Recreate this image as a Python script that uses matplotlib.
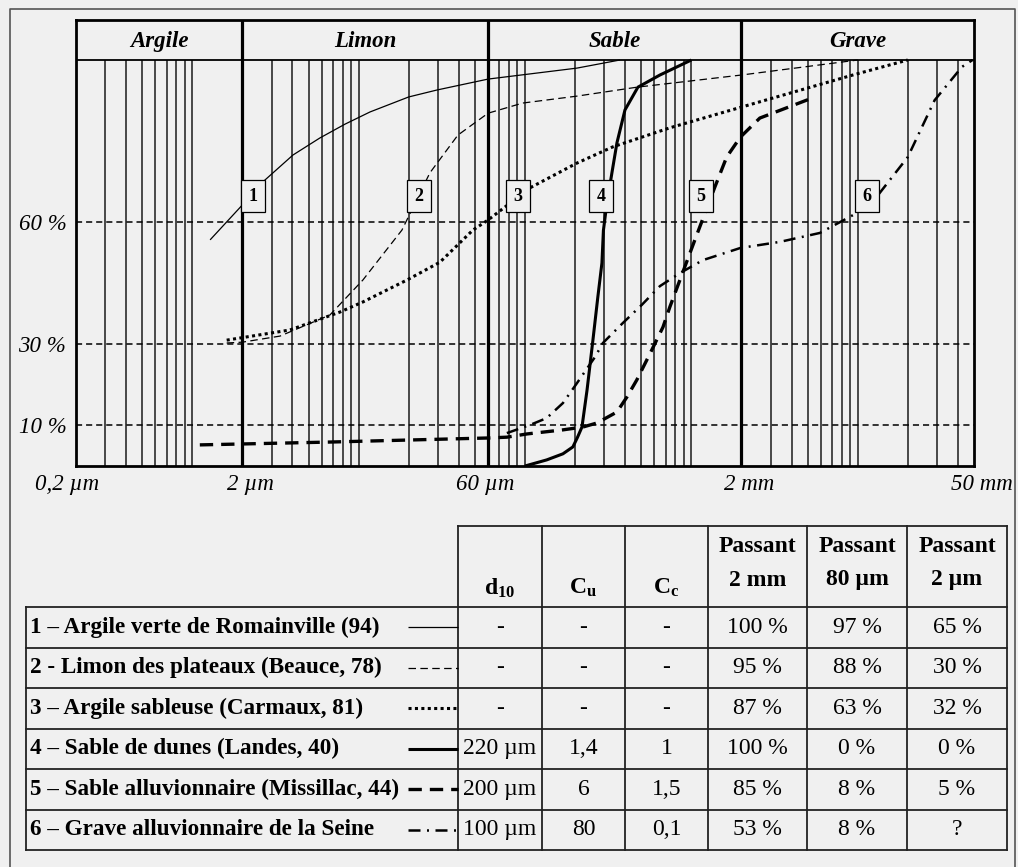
import matplotlib

matplotlib.use("Agg")
import matplotlib.pyplot as plt
import matplotlib.transforms as mtransforms
import numpy as np

plt.rcParams["font.family"] = ["Liberation Serif", "DejaVu Serif"]
plt.rcParams["mathtext.fontset"] = "custom"
plt.rcParams["mathtext.rm"] = "Liberation Serif:bold"
plt.rcParams["mathtext.it"] = "Liberation Serif:bold"
plt.rcParams["mathtext.bf"] = "Liberation Serif:bold"

BG = "#f0f0f0"

# ---- grain-size curves: diameter (µm) vs passing (%) ----
c1_d = [1.28, 2.0, 2.66, 4.03, 5.85, 8.28, 11.7, 20, 29.5, 60, 205, 372]
c1_p = [55.7, 64.3, 70, 76.6, 80.8, 84.2, 87.2, 90.9, 92.6, 95.3, 98, 100]

c2_d = [1.61, 2.0, 3.37, 6.72, 10.6, 18.2, 26.8, 39.5, 60, 97, 205, 470, 2000, 10000]
c2_p = [30.3, 30.5, 32, 37.2, 45.8, 58.1, 72.2, 81.5, 86.9, 89.4, 91.1, 93.3, 96.3, 100]

c3_d = [1.61, 3.86, 7.7, 10.6, 19.5, 30.8, 48.6, 60, 107, 205, 337, 743, 2000, 9340, 20000]
c3_p = [31, 33.5, 37.9, 40.4, 45.8, 50.2, 58.1, 60.6, 68.5, 74.6, 78.6, 83.3, 88.4, 96.3, 100]

c4_d = [100, 135, 169, 194, 207, 220, 236, 256, 274, 290, 296, 309, 333, 357, 399, 477, 647, 1000]
c4_p = [0, 1.5, 3, 4.7, 7.1, 9.6, 18.7, 31, 41.6, 50, 58, 64, 72.2, 79.6, 87.7, 93.3, 96.3, 100]

c5_d = [1.11, 6.72, 60, 77.8, 103, 169, 223, 271, 357, 410, 470, 566, 675, 743,
        1050, 1208, 1384, 1630, 1970, 2580, 5300]
c5_p = [5.2, 5.9, 6.9, 7.1, 7.9, 8.9, 9.6, 10.6, 13.3, 17, 21.2, 27.8, 34.2, 39.2,
        55.7, 62.3, 68.7, 76.1, 81, 85.7, 90.6]

c6_d = [77.8, 107, 135, 169, 202, 263, 294, 387, 504, 647, 853, 1172, 1970, 3404,
        5920, 9870, 13000, 20000, 29000, 42300, 49000]
c6_p = [8.1, 10.1, 11.8, 15.5, 20, 26.8, 30.3, 35.2, 39.7, 44.3, 47.5, 50.7, 53.7, 55.2,
        57.4, 62.3, 66.3, 76.1, 90.1, 98.3, 100]

curve_ids = ["1", "2", "3", "4", "5", "6"]
label_d = [2.32, 23, 90.6, 286, 1140, 11350]
label_p = 66.5

# size classes
class_names = ["Argile", "Limon", "Sable", "Grave"]
class_bounds = [0.2, 2, 60, 2000, 50000]
xtick_labels = ["0,2 µm", "2 µm", "60 µm", "2 mm", "50 mm"]
ytick_vals = [10, 30, 60]

# ---- table ----
materials = [
    "1 – Argile verte de Romainville (94)",
    "2 - Limon des plateaux (Beauce, 78)",
    "3 – Argile sableuse (Carmaux, 81)",
    "4 – Sable de dunes (Landes, 40)",
    "5 – Sable alluvionnaire (Missillac, 44)",
    "6 – Grave alluvionnaire de la Seine",
]
d10 = ["-", "-", "-", "220 µm", "200 µm", "100 µm"]
cu = ["-", "-", "-", "1,4", "6", "80"]
cc = ["-", "-", "-", "1", "1,5", "0,1"]
pass_2mm = ["100 %", "95 %", "87 %", "100 %", "85 %", "53 %"]
pass_80um = ["97 %", "88 %", "63 %", "0 %", "8 %", "8 %"]
pass_2um = ["65 %", "30 %", "32 %", "0 %", "5 %", "?"]
col_heads = [r"$\mathrm{d}_{\mathrm{10}}$", r"$\mathrm{C}_{\mathrm{u}}$", r"$\mathrm{C}_{\mathrm{c}}$",
             "Passant\n2 mm", "Passant\n80 µm", "Passant\n2 µm"]

styles = [
    dict(color="black", lw=0.9, ls="-"),
    dict(color="black", lw=0.9, ls=(0, (6, 3.5))),
    dict(color="black", lw=2.2, ls=(0, (1, 1.1))),
    dict(color="black", lw=2.2, ls="-"),
    dict(color="black", lw=2.4, ls=(0, (4, 2.4))),
    dict(color="black", lw=1.8, ls=(0, (4.8, 2.6, 0.8, 2.6))),
]

W, H = 1018, 867
fig = plt.figure(figsize=(W / 100, H / 100), dpi=100, facecolor=BG)

# pixel-space axes for the frame and the table
pax = fig.add_axes([0, 0, 1, 1], zorder=0)
pax.set_xlim(0, W)
pax.set_ylim(H, 0)
pax.axis("off")
pax.plot([10, 10, 1015, 1015], [H + 5, 9, 9, H + 5], color="#555555", lw=1.2)

# chart axes: 0.2 µm .. 50 mm, 0..100 % plus header band
left, right, top, bottom, y100 = 76, 974, 20, 466, 60
ymax = 100 * (bottom - top) / (bottom - y100)
ax = fig.add_axes([left / W, 1 - bottom / H, (right - left) / W, (bottom - top) / H],
                  zorder=1)
ax.set_facecolor("none")
ax.set_xscale("log")
ax.set_xlim(0.2, 50000)
ax.set_ylim(0, ymax)
for s in ax.spines.values():
    s.set_linewidth(2.0)

minor = [m * 10.0 ** k for k in range(-1, 5) for m in range(1, 10)]
minor = [v for v in minor if 0.25 < v < 45000]
ax.vlines(minor, 0, 100, color="#333333", lw=1.25, zorder=1)
ax.vlines(class_bounds[1:-1], 0, ymax, color="black", lw=2.3, zorder=2)
ax.axhline(100, color="black", lw=1.3, zorder=2)
for v in ytick_vals:
    ax.axhline(v, color="black", lw=1.1, ls=(0, (4, 2.6)), zorder=2)

for name, a, b in zip(class_names, class_bounds[:-1], class_bounds[1:]):
    ax.text(np.sqrt(a * b), (100 + ymax) / 2 - 0.4, name, ha="center", va="center",
            fontsize=16.5, fontweight="bold", fontstyle="italic")

curves = [(c1_d, c1_p), (c2_d, c2_p), (c3_d, c3_p), (c4_d, c4_p), (c5_d, c5_p), (c6_d, c6_p)]
for (d, p), st in zip(curves, styles):
    ax.plot(d, p, zorder=3, solid_capstyle="butt", dash_capstyle="butt", **st)

for cid, xd in zip(curve_ids, label_d):
    ax.text(xd, label_p, cid, ha="center", va="center", fontsize=13, fontweight="bold",
            zorder=5, bbox=dict(boxstyle="square,pad=0.4", fc=BG, ec="black", lw=0.9))

ax.set_xticks(class_bounds)
ax.set_xticklabels(xtick_labels, fontsize=16.5, fontstyle="italic")
ax.xaxis.set_minor_locator(matplotlib.ticker.NullLocator())
ax.set_yticks(ytick_vals)
ax.set_yticklabels([f"{v} %" for v in ytick_vals], fontsize=16.5, fontstyle="italic")
ax.tick_params(length=0)
ax.tick_params(axis="x", pad=6)
ax.tick_params(axis="y", pad=7)
# the printed labels sit slightly off their grid lines
for lab, dx in zip(ax.get_xticklabels(), [-9, 8, -3, 8, 8]):
    lab.set_transform(lab.get_transform() + mtransforms.ScaledTranslation(dx / 100, 0, fig.dpi_scale_trans))

# ---- table drawing ----
col_x = [26, 458, 542, 625, 708, 807, 907, 1007]
row_y = [526, 607, 647.5, 688, 728.5, 769, 809.5, 850]
lc = "#222222"
tlw = 1.3
pax.plot([col_x[1], col_x[-1]], [row_y[0], row_y[0]], color=lc, lw=tlw)
for x in col_x[1:]:
    pax.plot([x, x], [row_y[0], row_y[-1]], color=lc, lw=tlw)
pax.plot([col_x[0], col_x[0]], [row_y[1], row_y[-1]], color=lc, lw=tlw)
for y in row_y[1:]:
    pax.plot([col_x[0], col_x[-1]], [y, y], color=lc, lw=tlw)

for j, head in enumerate(col_heads):
    cx = (col_x[j + 1] + col_x[j + 2]) / 2
    if "\n" in head:
        l1, l2 = head.split("\n")
        pax.text(cx, 547, l1, ha="center", va="center", fontsize=17, fontweight="bold")
        pax.text(cx, 580, l2, ha="center", va="center", fontsize=17, fontweight="bold")
    else:
        pax.text(cx, 588, head, ha="center", va="center", fontsize=17, fontweight="bold")

cols = [d10, cu, cc, pass_2mm, pass_80um, pass_2um]
for i, name in enumerate(materials):
    cy = (row_y[i + 1] + row_y[i + 2]) / 2
    pax.text(30, cy, name, ha="left", va="center", fontsize=16.7, fontweight="bold")
    pax.plot([408, col_x[1]], [cy, cy], solid_capstyle="butt", dash_capstyle="butt",
             **styles[i])
    for j, col in enumerate(cols):
        cx = (col_x[j + 1] + col_x[j + 2]) / 2
        pax.text(cx, cy, col[i], ha="center", va="center", fontsize=17)

fig.savefig("out.png", dpi=100, facecolor=BG)
